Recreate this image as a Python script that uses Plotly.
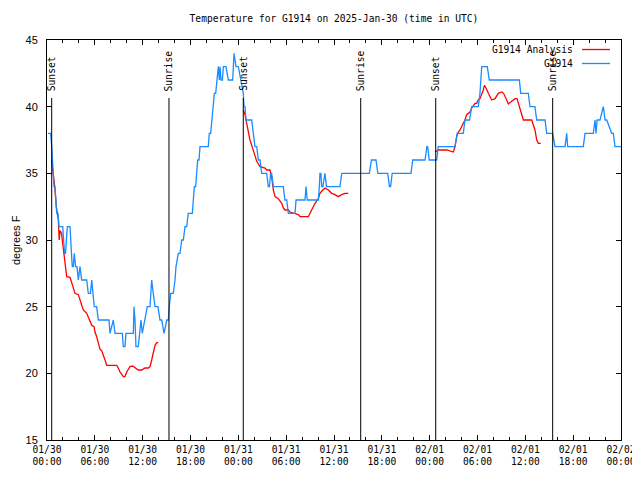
import pandas as pd
import plotly.graph_objects as go

BASE = pd.Timestamp("2025-01-30 00:00")

# Observed temperature (G1914): hours since 2025-01-30 00:00 UTC, degrees F
obs_hours = [0.13, 0.46, 0.59, 0.66, 0.79, 0.88, 1.00, 1.09, 1.22, 1.38, 1.51, 1.97, 2.07, 2.20, 2.32, 2.45,
             2.55, 2.89, 2.95, 3.07, 3.17, 3.30, 3.42, 3.58, 3.76, 3.93, 4.14, 4.35, 4.98, 5.18, 5.46, 5.61,
             5.77, 5.93, 6.23, 6.44, 7.78, 7.90, 8.32, 8.53, 9.45, 9.57, 9.78, 9.91, 10.83, 10.91, 11.04, 11.16,
             11.45, 11.58, 11.79, 11.95, 12.29, 12.58, 12.92, 13.13, 13.33, 13.55, 13.92, 14.17, 14.39, 14.68,
             15.02, 15.22, 15.34, 15.52, 15.84, 16.06, 16.18, 16.47, 16.68, 16.90, 17.10, 17.31, 17.52, 17.72,
             18.23, 18.35, 18.48, 18.65, 18.78, 18.90, 19.07, 19.19, 20.23, 20.36, 20.53, 20.66, 20.86, 20.99,
             21.16, 21.29, 21.49, 21.62, 21.70, 21.83, 22.00, 22.12, 22.45, 22.74, 23.29, 23.46, 23.71, 24.00,
             24.34, 24.62, 24.71, 24.84, 24.96, 25.68, 25.88, 26.09, 26.31, 26.51, 26.72, 26.93, 27.56, 27.76,
             27.90, 28.05, 28.18, 28.39, 29.64, 29.85, 30.07, 30.27, 31.11, 31.24, 32.36, 32.49, 32.65, 34.03,
             34.16, 34.24, 34.35, 34.46, 34.60, 34.87, 35.06, 35.29, 36.75, 36.97, 40.43, 40.70, 41.27, 41.50,
             42.74, 42.95, 43.10, 43.30, 45.66, 45.87, 47.42, 47.65, 47.75, 47.95, 48.88, 49.08, 51.18, 51.45,
             52.22, 52.43, 53.00, 53.27, 54.10, 54.31, 54.40, 54.53, 55.23, 55.48, 59.25, 59.42, 60.37, 60.59,
             61.20, 61.43, 62.47, 62.68, 63.43, 63.72, 64.98, 65.19, 65.31, 67.27, 67.49, 68.53, 68.74, 68.87,
             69.00, 69.37, 69.78, 70.00, 70.21, 70.83, 71.04, 71.25, 71.87, 72.00]
obs_temp = [38, 38, 37, 36, 35, 34, 34, 33, 32, 32, 31, 31, 30, 29, 29, 30,
            31, 31, 30, 29, 28, 28, 29, 28, 28, 27, 28, 27, 27, 26, 26, 27,
            26, 25, 25, 24, 24, 23, 24, 23, 23, 22, 22, 23, 23, 25, 24, 22,
            22, 23, 24, 23, 24, 25, 25, 27, 26, 25, 25, 24, 24, 23,
            24, 24, 25, 26, 26, 27, 28, 29, 29, 30, 30, 31, 31, 32,
            32, 33, 34, 34, 35, 36, 36, 37, 37, 38, 38, 39, 40, 41,
            41, 42, 43, 42, 43, 42, 42, 43, 43, 42, 42, 44, 43, 43,
            42, 41, 40, 40, 39, 39, 38, 37, 37, 36, 36, 35, 35, 34,
            34, 35, 35, 34, 34, 33, 33, 32, 32, 33, 33, 34, 33, 33,
            34, 35, 35, 34, 34, 35, 34, 34, 34, 35, 35, 36, 36, 35,
            35, 34, 34, 35, 35, 36, 36, 37, 37, 36, 36, 37, 37, 38,
            38, 39, 39, 40, 40, 41, 42, 43, 43, 42, 42, 41, 41, 40,
            40, 39, 39, 38, 38, 37, 37, 38, 37, 37, 38, 38, 39, 38,
            39, 39, 40, 39, 39, 38, 38, 37, 37, 37]

# Analysis temperature (G1914 Analysis): three segments separated by gaps (None)
ana_hours = [0.59, 0.79, 0.97, 1.17, 1.42, 1.53, 1.63, 1.82, 1.97, 2.13, 2.26, 2.38, 2.47, 2.89, 3.10, 3.30,
             3.51, 3.93, 4.14, 4.35, 4.55, 4.98, 5.18, 5.39, 5.61, 5.90, 6.02, 6.23, 6.44, 6.65, 6.86, 7.06,
             7.28, 7.49, 8.74, 8.94, 9.16, 9.57, 9.78, 10.00, 10.41, 10.75, 11.04, 11.45, 11.88, 12.29, 12.71,
             12.92, 13.13, 13.33, 13.55, 13.76, 13.96,
             19.0,
             24.62, 24.84, 25.05, 25.25, 25.46, 25.68, 25.88, 26.09, 26.31, 26.72, 27.35, 27.56, 27.97, 28.18,
             28.39, 28.60, 29.01, 29.44, 29.64, 29.85, 30.27, 30.48, 31.11, 31.52, 31.74, 32.78, 32.99, 33.20,
             33.40, 33.62, 34.03, 34.24, 34.58, 34.87, 35.29, 35.71, 36.13, 36.54, 36.97, 37.38, 37.79,
             43.0,
             48.67, 49.08, 50.14, 50.97, 51.18, 51.39, 51.59, 51.81, 52.22, 52.43, 52.64, 52.85, 53.06, 53.27,
             53.47, 53.69, 53.90, 54.10, 54.31, 54.53, 54.73, 54.86, 55.07, 55.36, 55.78, 56.20, 56.61, 57.04,
             57.27, 57.66, 57.87, 58.29, 58.71, 58.96, 59.12, 59.33, 59.55, 59.75, 60.80, 61.00, 61.21, 61.43,
             61.63, 61.93]
ana_temp = [36.0, 35.0, 34.0, 32.5, 31.5, 30.0, 30.7, 30.5, 29.75, 29.25, 28.75, 28.0, 27.25, 27.2, 26.8, 26.4,
            26.0, 25.9, 25.5, 25.1, 24.75, 24.5, 24.25, 23.9, 23.6, 23.5, 23.1, 22.75, 22.25, 21.8, 21.7, 21.4,
            21.0, 20.6, 20.6, 20.4, 20.1, 19.75, 19.75, 20.1, 20.5, 20.55, 20.4, 20.25, 20.25, 20.4, 20.4,
            20.5, 21.0, 21.5, 22.1, 22.3, 22.3,
            None,
            39.75, 39.4, 38.75, 38.0, 37.5, 37.1, 36.75, 36.25, 35.9, 35.5, 35.4, 35.25, 35.25, 34.75,
            33.75, 33.25, 33.1, 32.75, 32.4, 32.25, 32.25, 32.1, 32.0, 31.9, 31.75, 31.75, 32.0, 32.25,
            32.5, 32.75, 33.1, 33.5, 33.75, 33.9, 33.75, 33.5, 33.4, 33.25, 33.4, 33.5, 33.5,
            None,
            36.6, 36.75, 36.75, 36.6, 37.0, 37.75, 38.1, 38.25, 38.75, 39.0, 39.4, 39.5, 39.6, 39.9,
            40.1, 40.25, 40.25, 40.5, 40.6, 40.9, 41.25, 41.6, 41.4, 41.0, 40.5, 40.6, 41.0, 41.1,
            41.0, 40.5, 40.2, 40.4, 40.6, 40.6, 40.25, 39.75, 39.25, 39.0, 39.0, 38.6, 38.25, 37.5,
            37.25, 37.25]

# Sun events: label and hours since 2025-01-30 00:00 UTC
sun_labels = ["Sunset", "Sunrise", "Sunset", "Sunrise", "Sunset", "Sunrise"]
sun_hours = [0.59, 15.30, 24.62, 39.35, 48.76, 63.43]

series_names = ["G1914 Analysis", "G1914"]
series_colors = ["#ff0000", "#1a8cff"]

MONO = "DejaVu Sans Mono"
SANS = "Liberation Sans"


def to_time(hours):
    return [BASE + pd.Timedelta(hours=h) for h in hours]


fig = go.Figure()
fig.add_trace(go.Scatter(x=to_time(ana_hours), y=ana_temp, mode="lines", name=series_names[0],
                         line=dict(color=series_colors[0], width=1.3), connectgaps=False, showlegend=False))
fig.add_trace(go.Scatter(x=to_time(obs_hours), y=obs_temp, mode="lines", name=series_names[1],
                         line=dict(color=series_colors[1], width=1.3), showlegend=False))

# The page body has an 8 px margin, so the figure is 8 px smaller and offset.
OFF = 8
W, H = 640 - OFF, 480 - OFF
L, R, T, B = 47 - OFF, 19, 40 - OFF, 40
pw, ph = W - L - R, H - T - B

def px_to_paper_y(py):
    return (H - B - (py - OFF)) / ph

def px_to_paper_x(px):
    return (px - OFF - L) / pw

for lab, h in zip(sun_labels, sun_hours):
    t = BASE + pd.Timedelta(hours=h)
    fig.add_shape(type="line", xref="x", yref="paper", x0=t, x1=t, y0=0, y1=px_to_paper_y(98),
                  line=dict(color="black", width=1), layer="above")
    fig.add_annotation(x=t, xref="x", y=px_to_paper_y(93), yref="paper", text=lab, textangle=-90,
                       showarrow=False, xanchor="center", yanchor="bottom",
                       font=dict(family=MONO, size=9.6, color="black"))

# Legend (gnuplot style: text right-aligned, sample line to its right)
for i, (name, col) in enumerate(zip(series_names, series_colors)):
    py = 49.5 + i * 14
    fig.add_annotation(x=px_to_paper_x(575), xref="paper", y=px_to_paper_y(py), yref="paper", text=name,
                       showarrow=False, xanchor="right", yanchor="middle",
                       font=dict(family=MONO, size=9.6, color="black"))
    fig.add_shape(type="line", xref="paper", yref="paper", x0=px_to_paper_x(582), x1=px_to_paper_x(610),
                  y0=px_to_paper_y(py), y1=px_to_paper_y(py), line=dict(color=col, width=1.3))

# y-axis label
fig.add_annotation(x=px_to_paper_x(9), xref="paper", y=0.5, yref="paper", text="degrees F", textangle=-90,
                   showarrow=False, xanchor="left", yanchor="middle", borderpad=0,
                   font=dict(family=SANS, size=11, color="black"))

fig.update_layout(
    width=W, height=H,
    margin=dict(l=L, r=R, t=T, b=B, pad=0, autoexpand=False),
    paper_bgcolor="white", plot_bgcolor="white",
    title=dict(text="Temperature for G1914 on 2025-Jan-30 (time in UTC)", x=0.5, xref="paper",
               y=1 - (19 - OFF) / H, yref="container", xanchor="center", yanchor="middle",
               font=dict(family=MONO, size=9.6, color="black")),
    showlegend=False,
)
fig.update_xaxes(
    type="date", range=[BASE, BASE + pd.Timedelta(hours=72)], automargin=False,
    tick0=BASE, dtick=6 * 3600 * 1000, tickformat="%m/%d<br>%H:%M",
    ticks="inside", ticklen=5, tickcolor="black", tickwidth=1,
    minor=dict(dtick=2 * 3600 * 1000, ticks="inside", ticklen=3, tickcolor="black", showgrid=False),
    showline=True, linecolor="black", linewidth=1, mirror="allticks",
    showgrid=False, zeroline=False,
    tickfont=dict(family=MONO, size=9.6, color="black"),
)
fig.update_yaxes(
    range=[15, 45], tick0=15, dtick=5, automargin=False,
    ticks="inside", ticklen=5, tickcolor="black", tickwidth=1,
    showline=True, linecolor="black", linewidth=1, mirror="allticks",
    showgrid=False, zeroline=False, ticklabelstandoff=6,
    tickfont=dict(family=SANS, size=11, color="black"),
)

fig.write_html("out.html")
